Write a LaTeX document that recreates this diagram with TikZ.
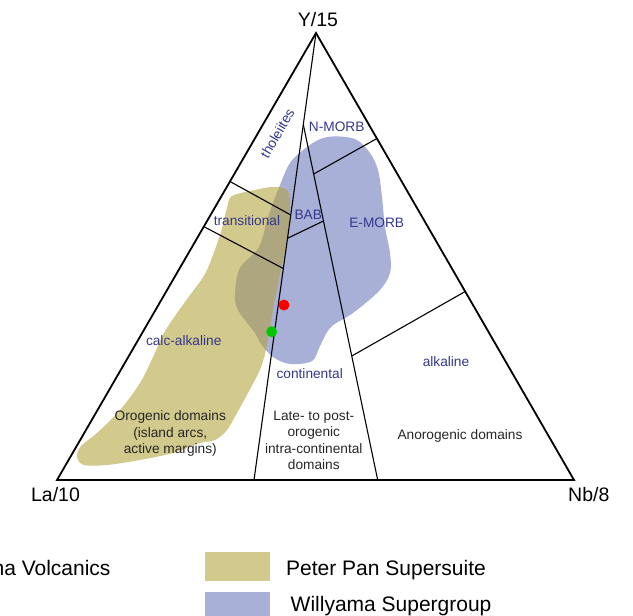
\documentclass[tikz,border=0pt]{standalone}
\usepackage{fontspec}
\setmainfont{Liberation Sans}
\definecolor{pp}{RGB}{210,201,141}
\definecolor{wg}{RGB}{169,176,215}
\definecolor{ov}{RGB}{173,166,127}
\definecolor{fblue}{RGB}{52,56,140}
\newcommand{\wgblob}{plot[smooth cycle, tension=0.55] coordinates {(278,190) (290,163) (307,147) (323,138) (340,136.5) (357,140) (370,153) (378,170) (382,197) (385,227) (390,253) (390,273) (379,291) (353,313) (331,327) (320,346) (312,361) (290,364) (273,357) (261,344) (255,333) (238,310) (235,293) (240,268) (259,247) (268,217)}}
\newcommand{\ppblob}{plot[smooth cycle, tension=0.55] coordinates {(232,196) (255,190) (272,187) (286,189) (290,200) (289,222) (285,250) (279,280) (273,310) (268,340) (264,358) (259,372) (248,393) (237,413) (227,430) (215,440) (200,443) (173,453) (140,460) (107,465) (84,465) (77,457) (81,446) (97,433) (120,410) (140,383) (153,357) (164,333) (177,313) (190,295) (206,272) (220,235) (227,208)}}
\begin{document}
\begin{tikzpicture}[x=1pt, y=-1pt,
edge/.style = {line width=1.8pt, line join=miter},
bound/.style = {line width=1.1pt},
field/.style = {text=fblue, font=\fontsize{13.7}{16.5}\selectfont, inner sep=0pt},
setting/.style = {text=black!85, font=\fontsize{13.7}{16.5}\selectfont, align=center, inner sep=0pt},
axis/.style = {font=\fontsize{19.5}{22}\selectfont, inner sep=0pt},
key/.style = {font=\fontsize{21}{24}\selectfont, inner sep=0pt},
swatch/.style = {minimum width=65pt, minimum height=29pt, inner sep=0pt},
dot/.style = {circle, minimum size=11pt, inner sep=0pt}]
\useasboundingbox (0,0) rectangle (633,616);
\clip (0,0) rectangle (633,616);

\fill[wg] \wgblob;
\fill[pp] \ppblob;
\begin{scope}
\clip \wgblob;
\fill[ov] \ppblob;
\end{scope}

\coordinate (Y) at (316,33);
\coordinate (La) at (57,480);
\coordinate (Nb) at (574,480);
\coordinate (lb) at (254,480);
\coordinate (rb) at (377.7,480);
\coordinate (jn) at (303.3,124.5);
\coordinate (t1) at (230,181.5);
\coordinate (t2) at (290.8,215);
\coordinate (c1) at (204,226.7);
\coordinate (c2) at (283.3,268.5);
\coordinate (b1) at (287.5,238.3);
\coordinate (b2) at (323.5,221);
\coordinate (m1) at (376.9,138.5);
\coordinate (m2) at (313.7,174);
\coordinate (a1) at (465.2,291.5);
\coordinate (a2) at (351.8,356);

\draw[bound] (Y) -- (lb);
\draw[bound] (jn) -- (rb);
\draw[bound] (t1) -- (t2);
\draw[bound] (c1) -- (c2);
\draw[bound] (b1) -- (b2);
\draw[bound] (m1) -- (m2);
\draw[bound] (a1) -- (a2);
\draw[edge] (Y) -- (La) -- (Nb) -- cycle;

\node[dot, fill=red] (p1) at (284,305) {};
\node[dot, fill={rgb,255:red,0;green,200;blue,0}] (p2) at (271.7,331.7) {};

\node[axis, anchor=base] (ylab) at (318,26.7) {Y/15};
\node[axis, anchor=base] (lalab) at (55.5,501.7) {La/10};
\node[axis, anchor=base west] (nblab) at (568,501.7) {Nb/8};

\node[field, rotate=60] (th) at (277.3,133.3) {tholeiites};
\node[field, anchor=base] (nm) at (336.7,131.6) {N-MORB};
\node[field, anchor=base] (tr) at (247,225) {transitional};
\node[field, anchor=base] (bab) at (308.3,219) {BAB};
\node[field, anchor=base] (em) at (376.7,227.2) {E-MORB};
\node[field, anchor=base] (ca) at (183.7,345.6) {calc-alkaline};
\node[field, anchor=base] (co) at (309.7,378.9) {continental};
\node[field, anchor=base] (al) at (446,366.6) {alkaline};

\node[setting] (oro) at (170.3,433.5) {Orogenic domains\\(island arcs,\\active margins)};
\node[setting] (late) at (313.8,440.6) {Late- to post-\\orogenic\\intra-continental\\domains};
\node[setting, anchor=base] (anoro) at (460,439) {Anorogenic domains};

\node[key, anchor=base east] (k1) at (110.7,575) {ma Volcanics};
\node[swatch, fill=pp] (s2) at (237,566.2) {};
\node[key, anchor=base west] (k2) at (286,575) {Peter Pan Supersuite};
\node[swatch, fill=wg] (s3) at (237,606.2) {};
\node[key, anchor=base west] (k3) at (290.5,611.5) {Willyama Supergroup};
\end{tikzpicture}
\end{document}
